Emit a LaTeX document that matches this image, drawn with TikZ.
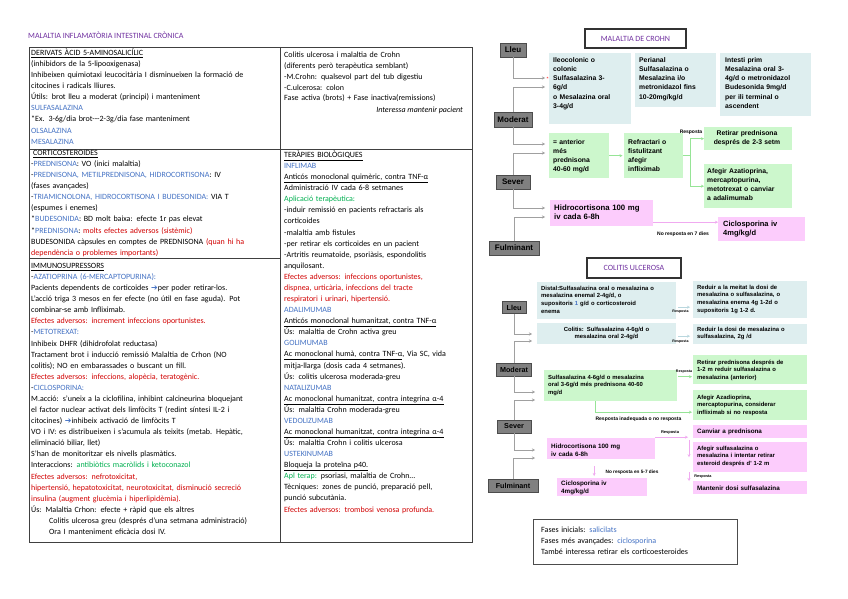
\documentclass[tikz,border=0pt]{standalone}
\usepackage{fontspec}
\setmainfont{Carlito}
\newfontfamily\arialf{Liberation Sans}
\newfontfamily\dejavu{DejaVu Sans}
\usetikzlibrary{arrows.meta}
\definecolor{tblue}{RGB}{68,114,196}
\definecolor{tred}{RGB}{210,0,0}
\definecolor{tgreen}{RGB}{0,176,80}
\definecolor{tpurple}{RGB}{112,48,160}
\definecolor{lblue}{RGB}{222,238,239}
\definecolor{lgreen}{RGB}{204,247,204}
\definecolor{lpink}{RGB}{252,204,252}
\definecolor{lvlgray}{RGB}{128,128,128}
\definecolor{glin}{RGB}{160,160,160}
\definecolor{grlin}{RGB}{150,228,150}
\definecolor{pklin}{RGB}{240,170,240}
\definecolor{bllin}{RGB}{185,215,222}
\newcommand{\myb}[1]{\textcolor{tblue}{#1}}
\newcommand{\myr}[1]{\textcolor{tred}{#1}}
\newcommand{\myg}[1]{\textcolor{tgreen}{#1}}
\begin{document}
\begin{tikzpicture}[x=1pt,y=-1pt,
  every node/.style={inner sep=0pt},
  cell/.style={anchor=base west, align=left, text width=#1, font=\fontsize{8}{11.08}\selectfont},
  tbl/.style={draw=black!75, line width=0.8pt},
  lvl/.style={draw=black!70, fill=lvlgray, line width=0.6pt, font=\arialf\bfseries\fontsize{8}{9}\selectfont, minimum height=14pt},
  lvls/.style={lvl, font=\arialf\bfseries\fontsize{7.2}{8}\selectfont, minimum height=13pt},
  ttl/.style={draw=black!80, line width=1.1pt, fill=white, text=tpurple, font=\fontsize{8}{9}\selectfont},
  bx/.style={anchor=north west, draw=none},
  bt/.style={anchor=base west, align=left, font=\arialf\bfseries\fontsize{6.8}{9.2}\selectfont},
  bts/.style={anchor=base west, align=left, font=\arialf\bfseries\fontsize{5.9}{7.9}\selectfont},
  lab/.style={font=\arialf\bfseries\fontsize{#1}{#1}\selectfont},
  garr/.style={draw=glin, line width=0.6pt, -{Stealth[length=3pt,width=3pt]}},
  gcl/.style={draw=grlin, line width=0.7pt},
  gcarr/.style={gcl, -{Stealth[length=3pt,width=3pt]}},
  pcarr/.style={draw=pklin, line width=0.7pt, -{Stealth[length=3pt,width=3pt]}},
  barr/.style={draw=bllin, line width=0.7pt, -{Stealth[length=3pt,width=3pt]}}
]
\useasboundingbox[fill=white] (0,0) rectangle (848,599);

% ---------------- title + table ----------------
\node[anchor=west, text=tpurple, font=\fontsize{8}{9}\selectfont] (maintitle) at (28,35) {MALALTIA INFLAMATÒRIA INTESTINAL CRÒNICA};
\draw[tbl] (29,47) rectangle (472,542);
\draw[tbl] (280,47) -- (280,542);
\draw[tbl] (29,149) -- (472,149);
\draw[tbl] (29,258) -- (280,258);

\node[cell=250pt] (cellA) at (31,55.5) {\underline{DERIVATS ÀCID 5-AMINOSALICÍLIC}\\
(inhibidors de la 5-lipooxigenasa)\\
Inhibeixen quimiotaxi leucocitària I disminueixen la formació de\\
citocines i radicals lliures.\\
Útils: brot lleu a moderat (principi) i manteniment\\
\myb{SULFASALAZINA}\\{}%
*Ex. 3-6g/dia brot-{}-{}-2-3g/dia fase manteniment\\
\myb{OLSALAZINA}\\
\myb{MESALAZINA}};

\node[cell=190pt, font=\fontsize{8}{10.7}\selectfont] (cellB) at (284,58) {Colitis ulcerosa i malaltia de Crohn\\
(diferents però terapèutica semblant)\\
-M.Crohn: qualsevol part del tub digestiu\\
-C.ulcerosa: colon\\
Fase activa (brots) + Fase inactiva(remissions)};
\node[anchor=base east, font=\itshape\fontsize{8}{9}\selectfont] (cellBi) at (463,112.5) {Interessa mantenir pacient};

\node[cell=250pt] (cellC) at (31,155.5) {\hspace*{2pt}\underline{CORTICOSTEROIDES}\\
-\myb{PREDNISONA}: VO (inici malaltia)\\
-\myb{PREDNISONA, METILPREDNISONA, HIDROCORTISONA}: IV\\
(fases avançades)\\
-\myb{TRIAMICNOLONA, HIDROCORTISONA I BUDESONIDA:} VIA T\\
(espumes i enemes)\\{}%
*\myb{BUDESONIDA}: BD molt baixa: efecte 1r pas elevat\\{}%
*\myb{PREDNISONA}: \myr{molts efectes adversos (sistèmic)}\\
BUDESONIDA càpsules en comptes de PREDNISONA \myr{(quan hi ha}\\
\myr{dependència o problemes importants)}};

\node[cell=250pt] (cellD) at (31,268.5) {\underline{IMMUNOSUPRESSORS}\\
-\myb{AZATIOPRINA (6-MERCAPTOPURINA):}\\
Pacients dependents de corticoides \myb{\dejavu ➔}per poder retirar-los.\\
L'acció triga 3 mesos en fer efecte (no útil en fase aguda). Pot\\
combinar-se amb Infliximab.\\
\myr{Efectes adversos: increment infeccions oportunistes.}\\
-\myb{METOTREXAT:}\\
Inhibeix DHFR (dihidrofolat reductasa)\\
Tractament brot i inducció remissió Malaltia de Crhon (NO\\
colitis); NO en embarassades o buscant un fill.\\
\myr{Efectes adversos: infeccions, alopècia, teratogènic.}\\
-\myb{CICLOSPORINA:}\\
M.acció: s'uneix a la ciclofilina, inhibint calcineurina bloquejant\\
el factor nuclear activat dels limfòcits T (redint síntesi IL-2 i\\
citocines) \myb{\dejavu ➔}inhibeix activació de limfòcits T\\
VO i IV: es distribueixen i s'acumula als teixits (metab. Hepàtic,\\
eliminació biliar, llet)\\
S'han de monitoritzar els nivells plasmàtics.\\
Interaccions: \myg{antibiòtics macròlids i ketoconazol}\\
\myr{Efectes adversos: nefrotoxicitat,}\\
\myr{hipertensió, hepatotoxicitat, neurotoxicitat, disminució secreció}\\
\myr{insulina (augment glucèmia i hiperlipidèmia).}\\
Ús: Malaltia Crhon: efecte + ràpid que els altres\\
\hspace*{18pt}Colitis ulcerosa greu (després d'una setmana administració)\\
\hspace*{18pt}Ora I manteniment eficàcia dosi IV.};

\node[cell=190pt] (cellE) at (284,157.5) {\underline{TERÀPIES BIOLÒGIQUES}\\
\myb{INFLIMAB}\\
\underline{Anticós monoclonal quimèric, contra TNF-α}\\
Administració IV cada 6-8 setmanes\\
\myg{Aplicació terapèutica:}\\
-induir remissió en pacients refractaris als\\
corticoides\\
-malaltia amb fistules\\
-per retirar els corticoides en un pacient\\
-Artritis reumatoide, psoriàsis, espondolitis\\
anquilosant.\\
\myr{Efectes adversos: infeccions oportunistes,}\\
\myr{dispnea, urticària, infeccions del tracte}\\
\myr{respiratori i urinari, hipertensió.}\\
\myb{ADALIMUMAB}\\
\underline{Anticós monoclonal humanitzat, contra TNF-α}\\
Ús: malaltia de Crohn activa greu\\
\myb{GOLIMUMAB}\\
\underline{Ac monoclonal humà, contra TNF-α}, Via SC, vida\\
mitja-llarga (dosis cada 4 setmanes).\\
Ús: colitis ulcerosa moderada-greu\\
\myb{NATALIZUMAB}\\
\underline{Ac monoclonal humanitzat, contra integrina α-4}\\
Ús: malaltia Crohn moderada-greu\\
\myb{VEDOLIZUMAB}\\
\underline{Ac monoclonal humanitzat, contra integrina α-4}\\
Ús: malaltia Crohn i colitis ulcerosa\\
\myb{USTEKINUMAB}\\
\underline{Bloqueja la proteïna p40.}\\
\myg{Apl terap:} psoriasi, malaltia de Crohn…\\
Tècniques: zones de punció, preparació pell,\\
punció subcutània.\\
\myr{Efectes adversos: trombosi venosa profunda.}};

% ---------------- Crohn ----------------
\node[ttl, minimum width=101pt, minimum height=19pt] (ctitle) at (635.5,38.5) {MALALTIA DE CROHN};
\node[lvl, minimum width=26pt] (CLleu) at (513,50) {Lleu};
\node[lvl, minimum width=38pt, minimum height=15pt] (CMod) at (513,119.5) {Moderat};
\node[lvl, minimum width=34pt] (CSev) at (513,182) {Sever};
\node[lvl, minimum width=50pt] (CFul) at (514,248) {Fulminant};

\node[bx, fill=lblue, minimum width=82pt, minimum height=71pt] (c1) at (549,53) {};
\node[bx, fill=lblue, minimum width=81pt, minimum height=54pt] (c2) at (635,53) {};
\node[bx, fill=lblue, minimum width=91pt, minimum height=63pt] (c3) at (720,53) {};
\node[bx, fill=lgreen, minimum width=60pt, minimum height=45pt] (c4) at (549,133) {};
\node[bx, fill=lgreen, minimum width=59pt, minimum height=45pt] (c5) at (624,133) {};
\node[bx, fill=lgreen, minimum width=88pt, minimum height=23pt] (c6) at (704,127) {};
\node[bx, fill=lgreen, minimum width=88pt, minimum height=44pt] (c7) at (704,164) {};
\node[bx, fill=lpink, minimum width=103pt, minimum height=26pt] (c8) at (550,200) {};
\node[bx, fill=lpink, minimum width=87pt, minimum height=24pt] (c9) at (718,217) {};

\node[bt, text width=78pt] (c1t) at (553,62.3) {Ileocolonic o\\colonic\\Sulfasalazina 3-\\6g/d\\o Mesalazina oral\\3-4g/d};
\node[bt, text width=78pt] (c2t) at (639,62.3) {Perianal\\Sulfasalazina o\\Mesalazina i/o\\metronidazol fins\\10-20mg/kg/d};
\node[bt, text width=86pt] (c3t) at (725,62.3) {Intesti prim\\Mesalazina oral 3-\\4g/d o metronidazol\\Budesonida 9mg/d\\per ili terminal o\\ascendent};
\node[bt, text width=56pt, font=\arialf\bfseries\fontsize{6.8}{9}\selectfont] (c4t) at (553,144.3) {= anterior\\més\\prednisona\\40-60 mg/d};
\node[bt, text width=56pt, font=\arialf\bfseries\fontsize{6.8}{9}\selectfont] (c5t) at (628,144.3) {Refractari o\\fistulitzant\\afegir\\infliximab};
\node[bt, anchor=base, align=center, text width=86pt, font=\arialf\bfseries\fontsize{6.8}{9}\selectfont] (c6t) at (747,135.3) {Retirar prednisona\\després de 2-3 setm};
\node[bt, text width=86pt, font=\arialf\bfseries\fontsize{6.8}{9}\selectfont] (c7t) at (707,173.3) {Afegir Azatioprina,\\mercaptopurina,\\metotrexat o canviar\\a adalimumab};
\node[bt, text width=100pt, font=\arialf\bfseries\fontsize{7.8}{9.2}\selectfont] (c8t) at (554,210.7) {Hidrocortisona 100 mg\\iv cada 6-8h};
\node[bt, text width=84pt, font=\arialf\bfseries\fontsize{7.5}{9.2}\selectfont] (c9t) at (723,226.6) {Ciclosporina iv\\4mg/kg/d};
\node[text=red, font=\fontsize{6}{6}\selectfont] (ast) at (547.5,79) {*};

\coordinate (ca1) at (545,78);
\coordinate (ca2) at (545,87);
\coordinate (ca3) at (545,144);
\coordinate (ca4) at (545,153);
\coordinate (ca5) at (545,208);
\coordinate (ca6) at (545,217);
\draw[garr] (CLleu.south) |- (ca1);
\draw[garr] (CMod.north) |- (ca2);
\draw[garr] (CMod.south) |- (ca3);
\draw[garr] (CSev.north) |- (ca4);
\draw[garr] (CSev.south) |- (ca5);
\draw[garr] (CFul.north) |- (ca6);

\draw[gcarr, shorten >=1.5pt] (c4.east) -- (c5.west);
\draw[gcl] (c5.east) -- ++(7,0) coordinate (cbr);
\draw[gcarr] (cbr) |- (c6.west);
\draw[gcarr] (cbr) |- (c7.west);
\node[lab=5] (lr1) at (691,132) {Resposta};
\draw[pcarr] ([yshift=-9pt]c8.east) -- ([yshift=-9pt]c8.east -| c9.west);
\node[lab=5] (lr2) at (683,234) {No resposta en 7 dies};

% ---------------- Colitis ulcerosa ----------------
\node[ttl, minimum width=94pt, minimum height=20pt] (utitle) at (634,268) {COLITIS ULCEROSA};
\node[lvls, minimum width=24pt, minimum height=12pt] (UL) at (514,307.5) {Lleu};
\node[lvls, minimum width=35pt] (UM) at (514,369.5) {Moderat};
\node[lvls, minimum width=34pt] (US) at (514,426.5) {Sever};
\node[lvls, minimum width=50pt] (UF) at (513,485.5) {Fulminant};

\node[bx, fill=lblue, minimum width=139pt, minimum height=37pt] (b1) at (537,282) {};
\node[bx, fill=lblue, minimum width=139pt, minimum height=21pt] (b2) at (537,323) {};
\node[bx, fill=lblue, minimum width=114pt, minimum height=37pt] (b3) at (693,281) {};
\node[bx, fill=lblue, minimum width=114pt, minimum height=20pt] (b4) at (693,324) {};
\node[bx, fill=lgreen, minimum width=133pt, minimum height=31pt] (g1) at (544,370) {};
\node[bx, fill=lgreen, minimum width=114pt, minimum height=29pt] (g2) at (693,355) {};
\node[bx, fill=lgreen, minimum width=114pt, minimum height=30pt] (g3) at (693,390) {};
\node[bx, fill=lpink, minimum width=108pt, minimum height=21pt] (p1) at (547,438) {};
\node[bx, fill=lpink, minimum width=114pt, minimum height=13pt] (p2) at (693,425) {};
\node[bx, fill=lpink, minimum width=114pt, minimum height=30pt] (p3) at (693,442) {};
\node[bx, fill=lpink, minimum width=90pt, minimum height=18pt] (p4) at (557,478) {};
\node[bx, fill=lpink, minimum width=114pt, minimum height=13pt] (p5) at (693,481) {};

\node[bts, text width=135pt] (b1t) at (541,290) {\makebox[131pt][s]{Distal:Sulfasalazina oral o mesalazina o}\\\makebox[131pt][s]{mesalazina enemal 2-4g/d, o}\\\makebox[131pt][s]{supositoris \textcolor{tblue}{1} g/d o corticosteroid}\\enema};
\node[bts, anchor=base, align=center, text width=135pt] (b2t) at (606.5,331) {Colitis: Sulfasalazina 4-6g/d o\\mesalazina oral 2-4g/d};
\node[bts, text width=110pt] (b3t) at (697,289) {\makebox[107pt][s]{Reduir a la meitat la dosi de}\\\makebox[107pt][s]{mesalazina o sulfasalazina, o}\\\makebox[107pt][s]{mesalazina enema 4g 1-2d o}\\supositoris 1g 1-2 d.};
\node[bts, text width=110pt] (b4t) at (697,331) {Reduir la dosi de mesalazina o\\sulfasalazina, 2g /d};
\node[bts, text width=130pt] (g1t) at (548,379) {Sulfasalazina 4-6g/d o mesalazina\\oral 3-6g/d més prednisona 40-60\\mg/d};
\node[bts, text width=110pt] (g2t) at (697,364) {Retirar prednisona després de\\1-2 m reduir sulfasalazina o\\mesalazina (anterior)};
\node[bts, text width=110pt] (g3t) at (697,399) {Afegir Azadioprina,\\mercaptopurina, considerar\\infliximab si no resposta};
\node[bts, text width=104pt, font=\arialf\bfseries\fontsize{6.3}{8}\selectfont] (p1t) at (551,448) {Hidrocortisona 100 mg\\iv cada 6-8h};
\node[bts, text width=110pt, font=\arialf\bfseries\fontsize{6.3}{8}\selectfont] (p2t) at (697,433.3) {Canviar a prednisona};
\node[bts, text width=110pt] (p3t) at (697,450) {Afegir sulfasalazina o\\mesalazina i intentar retirar\\esteroid després d' 1-2 m};
\node[bts, text width=86pt, font=\arialf\bfseries\fontsize{6.3}{8.5}\selectfont] (p4t) at (561,485.3) {Ciclosporina iv\\4mg/kg/d};
\node[bts, text width=110pt, font=\arialf\bfseries\fontsize{6.3}{8}\selectfont] (p5t) at (697,490.3) {Mantenir dosi sulfasalazina};

\coordinate (ua1) at (532,334);
\coordinate (ua2) at (532,341);
\coordinate (ua3) at (535,392);
\coordinate (ua4) at (535,400);
\coordinate (ua5) at (535,450);
\coordinate (ua6) at (535,458);
\draw[garr] (UL.south) |- (ua1);
\draw[garr] (UM.north) |- (ua2);
\draw[garr] (UM.south) |- (ua3);
\draw[garr] (US.north) |- (ua4);
\draw[garr] (US.south) |- (ua5);
\draw[garr] (UF.north) |- (ua6);

\draw[barr, shorten <=2pt, shorten >=3pt] ([yshift=-6.5pt]b1.east) -- ([yshift=-6.5pt]b1.east -| b3.west);
\node[lab=3.6] (lr3) at (680.5,312) {Resposta};
\draw[barr, shorten <=2pt, shorten >=3pt] ([yshift=-2.5pt]b2.east) -- ([yshift=-2.5pt]b2.east -| b4.west);
\node[lab=3.6] (lr4) at (680.5,342) {Resposta};
\draw[gcarr, shorten <=1pt, shorten >=1pt] ([yshift=9pt]g1.east) -- ([yshift=9pt]g1.east -| g2.west);
\node[lab=3.6] (lr5) at (684,371.5) {Resposta};
\draw[gcarr, shorten >=1pt] ([xshift=-15.5pt]g1.south) |- ([yshift=-7pt]g3.west);
\node[lab=5] (lr6) at (638.5,419) {Resposta inadequada o no resposta};

\draw[pcarr, shorten >=5pt] (p1.north east) |- ([yshift=-5.5pt]p2.west);
\node[lab=4] (lr7) at (670,433) {Resposta};
\draw[pcarr, shorten <=2pt] ([xshift=-4pt]p2.south west) -- ([xshift=-4pt]p3.west);
\draw[pcarr] ([xshift=-4pt]p3.south west) -- ([xshift=-4pt]p5.north west);
\node[lab=3.8] (lr8) at (703,477) {Resposta};
\draw[pcarr, shorten <=7pt, shorten >=2pt] ([xshift=-7pt]p1.south) -- ([xshift=-8pt]p4.north);
\node[lab=4.7] (lr9) at (632,472) {No resposta en 5-7 dies};

% ---------------- bottom note ----------------
\node[anchor=north west, draw=black!70, line width=0.8pt, minimum width=204pt, minimum height=45pt] (note) at (533,519) {};
\node[cell=190pt, font=\fontsize{8}{11}\selectfont] (notet) at (541,532.5) {Fases inicials: \myb{salicilats}\\Fases més avançades: \myb{ciclosporina}\\També interessa retirar els corticoesteroides};
\end{tikzpicture}
\end{document}
